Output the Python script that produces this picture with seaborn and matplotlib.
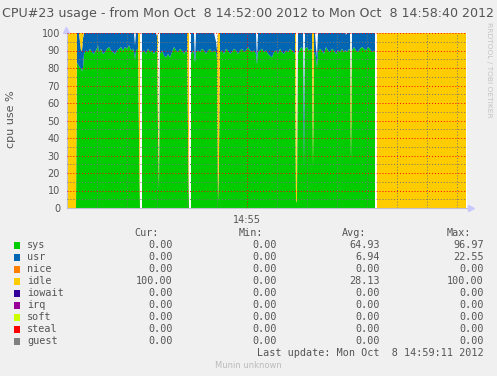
import numpy as np
import pandas as pd
import matplotlib
matplotlib.use("Agg")
import matplotlib.pyplot as plt
import seaborn as sns

nan = float("nan")

# seconds after 14:52:00
t = [0, 9, 10, 11, 12, 13, 14, 15, 16, 17, 19, 21, 23, 25, 27, 29, 31, 32, 34, 36,
     38, 40, 42, 44, 46, 48, 50, 52, 54, 56, 58, 60, 62, 64, 66, 67, 68, 69, 71, 72,
     73, 74, 75, 77, 79, 81, 83, 85, 87, 89, 90, 91, 92, 93, 95, 97, 99, 101, 103, 105,
     107, 109, 111, 113, 115, 117, 119, 120, 121, 122, 123, 124, 126, 127, 128, 129, 131, 133, 135, 137,
     139, 141, 143, 145, 147, 149, 150, 151, 152, 153, 155, 157, 159, 161, 163, 165, 167, 169, 171, 173,
     175, 177, 179, 181, 183, 185, 187, 189, 190, 191, 193, 195, 197, 199, 201, 203, 205, 207, 209, 211,
     213, 215, 217, 219, 221, 223, 225, 227, 228, 229, 230, 231, 233, 235, 236, 237, 238, 240, 242, 244,
     245, 246, 247, 248, 249, 250, 251, 253, 255, 257, 259, 261, 263, 265, 267, 269, 271, 273, 275, 277,
     278, 279, 280, 282, 283, 284, 285, 287, 289, 291, 293, 295, 297, 299, 301, 303, 305, 307, 308, 309,
     310, 399]

sys_v = [0, 0, 83, 82, 81, 80, 80, 78, 80, 88, 90, 89, 91, 89, 88, 90, 93, 89, 91, 88,
         89, 91, 92, 90, 89, 88, 90, 91, 92, 90, 92, 91, 93, 90, 91, 89, 85, 90, 91, 40,
         0, nan, 89, 90, 88, 91, 89, 90, 88, 90, 89, 45, 10, 88, 90, 87, 86, 88, 86, 89,
         92, 90, 89, 91, 90, 88, 90, 89, 45, 0, nan, 88, 90, 88, 83, 89, 90, 89, 91, 90,
         88, 90, 91, 89, 90, 89, 85, 3, 30, 89, 90, 88, 91, 90, 88, 89, 91, 90, 88, 90,
         91, 89, 90, 92, 90, 89, 90, 88, 82, 89, 90, 91, 89, 90, 88, 87, 86, 89, 90, 88,
         91, 89, 88, 90, 89, 91, 90, 89, 88, 3, 5, 88, 91, 92, 90, 22, 91, 92, 90, 91,
         90, 23, 89, 88, 86, 80, 89, 91, 90, 88, 92, 90, 89, 91, 90, 88, 90, 89, 91, 89,
         90, 90, 89, 91, 90, 25, 90, 92, 90, 89, 91, 92, 91, 90, 92, 91, 89, 90, 89, nan,
         0, 0]

usr_v = [0, 0, 17, 18, 19, 15, 10, 12, 17, 12, 10, 11, 9, 11, 12, 10, 7, 11, 9, 12,
         11, 9, 8, 10, 11, 12, 10, 9, 8, 10, 8, 9, 7, 10, 9, 11, 8, 10, 9, 5,
         0, nan, 11, 10, 12, 9, 11, 10, 12, 10, 9, 0, 0, 12, 10, 13, 14, 12, 14, 11,
         8, 10, 11, 9, 10, 12, 10, 11, 0, 0, nan, 12, 10, 12, 1, 11, 10, 11, 9, 10,
         12, 10, 9, 11, 10, 6, 5, 0, 0, 11, 10, 12, 9, 10, 12, 11, 9, 10, 12, 10,
         9, 11, 10, 8, 10, 11, 10, 12, 2, 11, 10, 9, 11, 10, 12, 13, 14, 11, 10, 12,
         9, 11, 12, 10, 11, 9, 10, 11, 12, 0, 0, 12, 9, 8, 10, 30, 9, 8, 10, 9,
         10, 0, 11, 12, 6, 6, 11, 9, 10, 12, 8, 10, 11, 9, 10, 12, 10, 11, 9, 11,
         10, 9, 11, 9, 10, 3, 10, 8, 10, 11, 9, 8, 9, 10, 8, 9, 11, 10, 11, nan,
         0, 0]

idle_v = [100, 100, 0, 0, 0, 5, 10, 10, 3, 0, 0, 0, 0, 0, 0, 0, 0, 0, 0, 0,
          0, 0, 0, 0, 0, 0, 0, 0, 0, 0, 0, 0, 0, 0, 0, 0, 0, 0, 0, 55,
          100, nan, 0, 0, 0, 0, 0, 0, 0, 0, 0, 55, 0, 0, 0, 0, 0, 0, 0, 0,
          0, 0, 0, 0, 0, 0, 0, 0, 55, 100, nan, 0, 0, 0, 0, 0, 0, 0, 0, 0,
          0, 0, 0, 0, 0, 0, 0, 97, 70, 0, 0, 0, 0, 0, 0, 0, 0, 0, 0, 0,
          0, 0, 0, 0, 0, 0, 0, 0, 0, 0, 0, 0, 0, 0, 0, 0, 0, 0, 0, 0,
          0, 0, 0, 0, 0, 0, 0, 0, 0, 97, 0, 0, 0, 0, 0, 0, 0, 0, 0, 0,
          0, 77, 0, 0, 0, 0, 0, 0, 0, 0, 0, 0, 0, 0, 0, 0, 0, 0, 0, 0,
          0, 0, 0, 0, 0, 30, 0, 0, 0, 0, 0, 0, 0, 0, 0, 0, 0, 0, 0, nan,
          100, 100]

names = ["sys", "usr", "nice", "idle", "iowait", "irq", "soft", "steal", "guest"]
colors = ["#00CC00", "#0066B3", "#FF8000", "#FFCC00", "#330099",
          "#990099", "#CCFF00", "#FF0000", "#808080"]
cur_vals = [0.00, 0.00, 0.00, 100.00, 0.00, 0.00, 0.00, 0.00, 0.00]
min_vals = [0.00, 0.00, 0.00, 0.00, 0.00, 0.00, 0.00, 0.00, 0.00]
avg_vals = [64.93, 6.94, 0.00, 28.13, 0.00, 0.00, 0.00, 0.00, 0.00]
max_vals = [96.97, 22.55, 0.00, 100.00, 0.00, 0.00, 0.00, 0.00, 0.00]

x_major = [180]
x_major_labels = ["14:55"]

title = "CPU#23 usage - from Mon Oct  8 14:52:00 2012 to Mon Oct  8 14:58:40 2012"
last_update = "Last update: Mon Oct  8 14:59:11 2012"

sns.set_theme(style="white", rc={"figure.facecolor": "#F0F0F0", "axes.facecolor": "white"})
plt.rcParams["font.family"] = ["DejaVu Sans"]

TXT = "#555555"
W, H = 497, 376
fig = plt.figure(figsize=(W / 100, H / 100), dpi=100)
fig.patch.set_facecolor("#F0F0F0")

ax = fig.add_axes([67 / W, 1 - 208 / H, 400 / W, 175 / H])
ax.set_facecolor("white")

df = pd.DataFrame({"t": t, "sys": sys_v, "usr": usr_v, "idle": idle_v})
base = np.zeros(len(df))
for col, c in [("sys", colors[0]), ("usr", colors[1]), ("idle", colors[3])]:
    top = base + df[col].to_numpy(dtype=float)
    ax.fill_between(df["t"], base, top, color=c, lw=0, zorder=1)
    base = top

ax.set_xlim(0, 400)
ax.set_ylim(0, 100)
ax.set_xticks(x_major)
ax.set_xticklabels(x_major_labels)
ax.set_xticks(list(range(30, 400, 30)), minor=True)
ax.set_yticks(list(range(0, 101, 10)))
ax.set_yticks(list(range(5, 100, 10)), minor=True)

ax.set_axisbelow(False)
dot = (0, (1, 2))
ax.xaxis.grid(True, which="major", color=(1, 0, 0, 0.3), ls=dot, lw=0.7)
ax.xaxis.grid(True, which="minor", color=(0.45, 0.45, 0.45, 0.35), ls=dot, lw=0.7)
ax.yaxis.grid(True, which="major", color=(1, 0, 0, 0.3), ls=dot, lw=0.7)
ax.yaxis.grid(True, which="minor", color=(0.45, 0.45, 0.45, 0.3), ls=dot, lw=0.7)

ax.tick_params(axis="both", which="both", direction="out", labelsize=7, labelcolor=TXT,
               length=3, width=0.7, color="#A0A0A0", pad=2)
ax.tick_params(axis="x", which="major", color="#FF6060")
for s in ["top", "right"]:
    ax.spines[s].set_visible(False)
for s in ["left", "bottom"]:
    ax.spines[s].set_color("#C0C0D0")
    ax.spines[s].set_linewidth(0.8)
ax.plot([-0.0025], [1.02], marker="^", ms=4, color="#C8C8FF", transform=ax.transAxes, clip_on=False)
ax.plot([1.009], [0.0], marker=">", ms=4, color="#C8C8FF", transform=ax.transAxes, clip_on=False)

fig.text(248.5 / W, 1 - 13 / H, title, ha="center", va="center", fontsize=9.1, color=TXT)
fig.text(11 / W, 1 - 119 / H, "cpu use %", rotation=90, ha="center", va="center", fontsize=8, color=TXT)
fig.text(489 / W, 1 - 22 / H, "RRDTOOL / TOBI OETIKER", rotation=-90, ha="center", va="top",
         fontsize=5.4, color="#C4C4C4")

# legend table in pixel coordinates
lx = fig.add_axes([0, 0, 1, 1])
lx.set_xlim(0, W)
lx.set_ylim(H, 0)
lx.axis("off")
lx.patch.set_alpha(0)

rows_y = [245.5 + 12 * i for i in range(len(names))]
leg = pd.DataFrame({"x": [17] * len(names), "y": rows_y, "name": names})
sns.scatterplot(data=leg, x="x", y="y", hue="name", palette=colors, marker="s", s=22,
                linewidth=0, legend=False, ax=lx)

mono = {"family": "DejaVu Sans Mono", "size": 7.3, "color": TXT}
for hx, htxt in zip([159, 263.5, 366.5, 471], ["Cur:", "Min:", "Avg:", "Max:"]):
    lx.text(hx, 233, htxt, ha="right", va="center", **mono)
cols_x = [172.5, 276.5, 380, 484]
for i, nm in enumerate(names):
    y = rows_y[i]
    lx.text(27, y, nm, ha="left", va="center", **mono)
    for cx, vals in zip(cols_x, [cur_vals, min_vals, avg_vals, max_vals]):
        lx.text(cx, y, f"{vals[i]:.2f}", ha="right", va="center", **mono)
lx.text(484, 353, last_update, ha="right", va="center", **mono)
lx.text(248, 365.5, "Munin unknown", ha="center", va="center", fontsize=6, color="#BBBBBB")

fig.savefig("out.png", dpi=100, facecolor=fig.get_facecolor())
